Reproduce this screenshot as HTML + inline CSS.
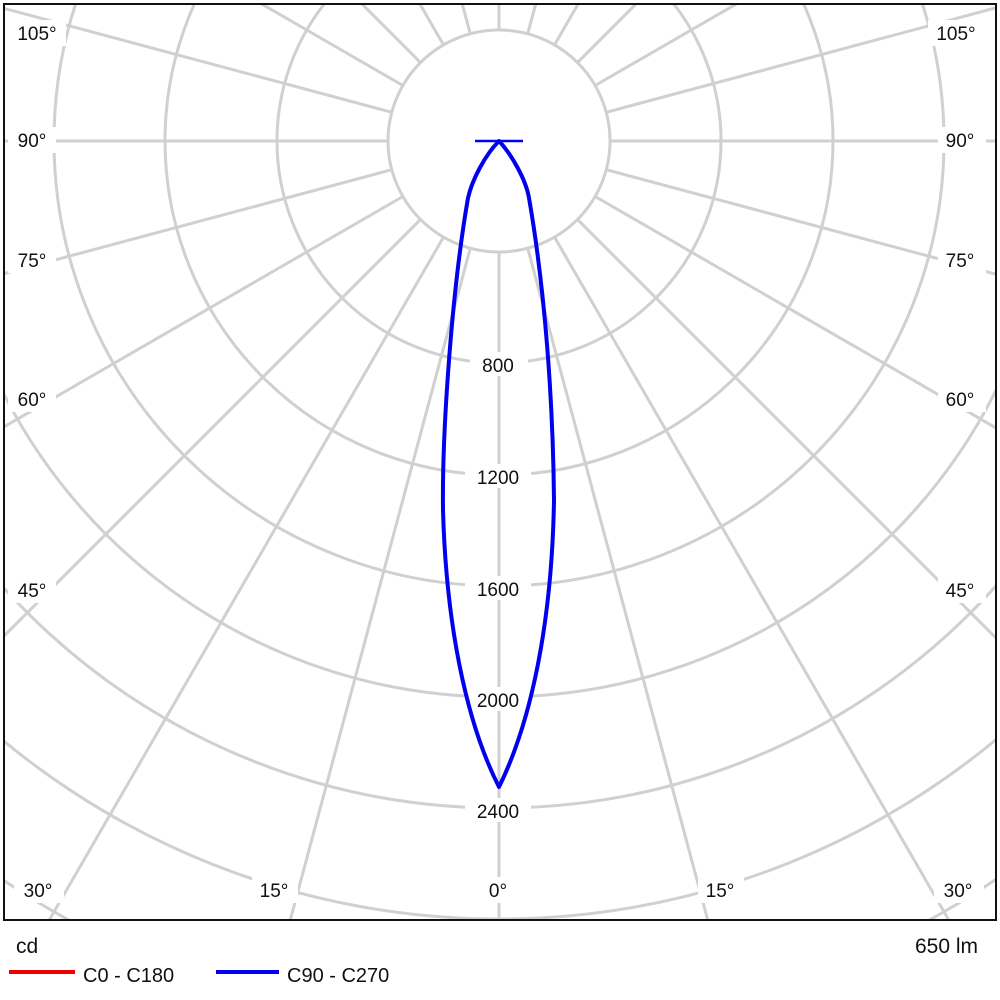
<!DOCTYPE html>
<html><head><style>html,body{margin:0;width:1000px;height:1000px;overflow:hidden;background:#fff}svg{display:block}text{font-family:"Liberation Sans",sans-serif}</style></head>
<body>
<svg width="1000" height="1000" viewBox="0 0 1000 1000" xmlns="http://www.w3.org/2000/svg">
<defs><clipPath id="c"><rect x="5" y="5" width="990" height="914"/></clipPath></defs>
<g clip-path="url(#c)" stroke="#d0d0d0" stroke-width="3" fill="none">
<circle cx="499" cy="141" r="111"/>
<circle cx="499" cy="141" r="222"/>
<circle cx="499" cy="141" r="334"/>
<circle cx="499" cy="141" r="445"/>
<circle cx="499" cy="141" r="556"/>
<circle cx="499" cy="141" r="667"/>
<circle cx="499" cy="141" r="778"/>
<circle cx="499" cy="141" r="890"/>
<circle cx="499" cy="141" r="1001"/>
<line x1="499" y1="252" x2="499" y2="1400"/>
<line x1="499" y1="252" x2="499" y2="1400" transform="rotate(15 499 141)"/>
<line x1="499" y1="252" x2="499" y2="1400" transform="rotate(30 499 141)"/>
<line x1="499" y1="252" x2="499" y2="1400" transform="rotate(45 499 141)"/>
<line x1="499" y1="252" x2="499" y2="1400" transform="rotate(60 499 141)"/>
<line x1="499" y1="252" x2="499" y2="1400" transform="rotate(75 499 141)"/>
<line x1="499" y1="252" x2="499" y2="1400" transform="rotate(90 499 141)"/>
<line x1="499" y1="252" x2="499" y2="1400" transform="rotate(105 499 141)"/>
<line x1="499" y1="252" x2="499" y2="1400" transform="rotate(120 499 141)"/>
<line x1="499" y1="252" x2="499" y2="1400" transform="rotate(135 499 141)"/>
<line x1="499" y1="252" x2="499" y2="1400" transform="rotate(150 499 141)"/>
<line x1="499" y1="252" x2="499" y2="1400" transform="rotate(165 499 141)"/>
<line x1="499" y1="252" x2="499" y2="1400" transform="rotate(180 499 141)"/>
<line x1="499" y1="252" x2="499" y2="1400" transform="rotate(195 499 141)"/>
<line x1="499" y1="252" x2="499" y2="1400" transform="rotate(210 499 141)"/>
<line x1="499" y1="252" x2="499" y2="1400" transform="rotate(225 499 141)"/>
<line x1="499" y1="252" x2="499" y2="1400" transform="rotate(240 499 141)"/>
<line x1="499" y1="252" x2="499" y2="1400" transform="rotate(255 499 141)"/>
<line x1="499" y1="252" x2="499" y2="1400" transform="rotate(270 499 141)"/>
<line x1="499" y1="252" x2="499" y2="1400" transform="rotate(285 499 141)"/>
<line x1="499" y1="252" x2="499" y2="1400" transform="rotate(300 499 141)"/>
<line x1="499" y1="252" x2="499" y2="1400" transform="rotate(315 499 141)"/>
<line x1="499" y1="252" x2="499" y2="1400" transform="rotate(330 499 141)"/>
<line x1="499" y1="252" x2="499" y2="1400" transform="rotate(345 499 141)"/>
</g>
<g fill="#fff">
<rect x="470" y="352" width="58" height="24"/>
<rect x="465" y="464" width="66" height="24"/>
<rect x="465" y="576" width="66" height="24"/>
<rect x="465" y="687" width="66" height="24"/>
<rect x="465" y="798" width="66" height="24"/>
<rect x="8" y="20" width="58" height="26"/><rect x="928" y="20" width="58" height="26"/>
<rect x="8" y="127" width="48" height="26"/><rect x="938" y="127" width="48" height="26"/>
<rect x="8" y="247" width="48" height="26"/><rect x="938" y="247" width="48" height="26"/>
<rect x="8" y="386" width="48" height="26"/><rect x="938" y="386" width="48" height="26"/>
<rect x="8" y="577" width="48" height="26"/><rect x="938" y="577" width="48" height="26"/>
<rect x="14" y="877" width="50" height="26"/><rect x="934" y="877" width="50" height="26"/>
<rect x="252" y="877" width="46" height="26"/><rect x="698" y="877" width="46" height="26"/>
<rect x="484" y="877" width="30" height="26"/>
</g>
<g font-size="19" fill="#111" text-anchor="middle">
<text x="498" y="372">800</text>
<text x="498" y="484">1200</text>
<text x="498" y="596">1600</text>
<text x="498" y="707">2000</text>
<text x="498" y="818">2400</text>
<text x="37" y="40">105°</text><text x="956" y="40">105°</text>
<text x="32" y="147">90°</text><text x="960" y="147">90°</text>
<text x="32" y="267">75°</text><text x="960" y="267">75°</text>
<text x="32" y="406">60°</text><text x="960" y="406">60°</text>
<text x="32" y="597">45°</text><text x="960" y="597">45°</text>
<text x="38" y="897">30°</text><text x="958" y="897">30°</text>
<text x="274" y="897">15°</text><text x="720" y="897">15°</text>
<text x="498" y="897">0°</text>
</g>
<g stroke="#0000ee" stroke-width="4" fill="none" stroke-linejoin="round">
<line x1="475" y1="141" x2="523" y2="141" stroke-width="2.5"/>
<path d="M499,141 C485,155 472,180 468,198 C452,290 442,430 443,510 C446,620 465,720 499,787 C532,720 552,620 554,500 C553,400 545,290 529,198 C526,180 512,155 499,141 Z"/>
</g>
<rect x="4" y="4" width="992" height="916" fill="none" stroke="#111" stroke-width="2"/>
<g font-size="21" fill="#111">
<text x="16" y="953">cd</text>
<text x="978" y="953" text-anchor="end">650 lm</text>
<text x="83" y="982" font-size="20">C0 - C180</text>
<text x="287" y="982" font-size="20">C90 - C270</text>
</g>
<line x1="9" y1="972" x2="75" y2="972" stroke="#ee0000" stroke-width="4"/>
<line x1="216" y1="972" x2="279" y2="972" stroke="#0000ee" stroke-width="4"/>
</svg>
</body></html>
